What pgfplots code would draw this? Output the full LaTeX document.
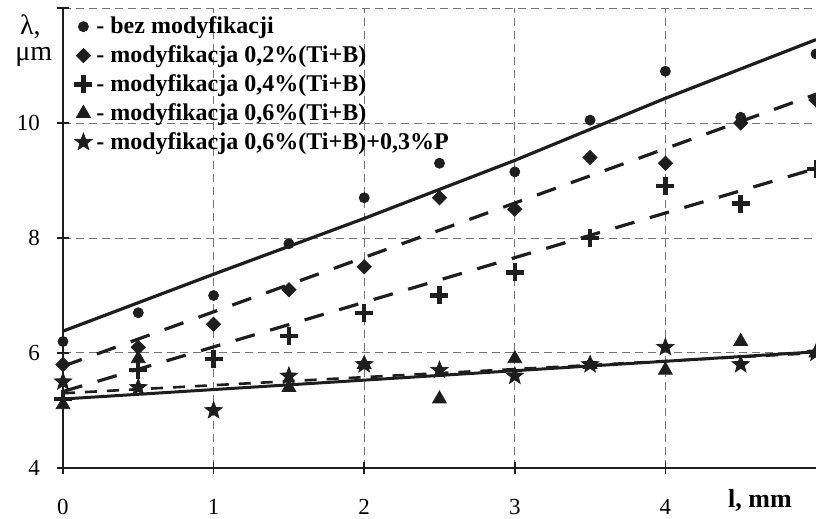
\documentclass[border=0pt]{standalone}
\usepackage{pgfplots}
\pgfplotsset{compat=1.18}
\usepackage{fontspec}
\setmainfont{Liberation Serif}

% filled five-pointed star
\pgfdeclareplotmark{fstar}{%
  \pgfpathmoveto{\pgfpointpolar{90}{\pgfplotmarksize}}%
  \pgfpathlineto{\pgfpointpolar{126}{0.42\pgfplotmarksize}}%
  \pgfpathlineto{\pgfpointpolar{162}{\pgfplotmarksize}}%
  \pgfpathlineto{\pgfpointpolar{198}{0.42\pgfplotmarksize}}%
  \pgfpathlineto{\pgfpointpolar{234}{\pgfplotmarksize}}%
  \pgfpathlineto{\pgfpointpolar{270}{0.42\pgfplotmarksize}}%
  \pgfpathlineto{\pgfpointpolar{306}{\pgfplotmarksize}}%
  \pgfpathlineto{\pgfpointpolar{342}{0.42\pgfplotmarksize}}%
  \pgfpathlineto{\pgfpointpolar{18}{\pgfplotmarksize}}%
  \pgfpathlineto{\pgfpointpolar{54}{0.42\pgfplotmarksize}}%
  \pgfpathclose\pgfusepathqfillstroke}

\definecolor{ink}{HTML}{1E1E1E}

\begin{document}
\begin{tikzpicture}
\begin{axis}[
  at={(0,0)}, anchor=south west, scale only axis,
  width=376.5pt, height=230pt,
  xmin=0, xmax=5, ymin=4, ymax=12,
  axis x line=bottom, axis y line=left,
  axis line style={-, line width=1pt, ink},
  xtick={0,1,2,3,4}, ytick={4,6,8,10,12}, yticklabels={4,6,8,10,},
  tick align=center, major tick length=6pt,
  tick style={ink, line width=0.8pt},
  grid=major,
  major grid style={black!55, line width=0.5pt, dash pattern=on 4pt off 2.5pt},
  /pgf/number format/assume math mode=true,
  ticklabel style={font=\fontsize{11.5}{12}\selectfont},
  xticklabel style={yshift=-9pt},
  yticklabel style={xshift=-5pt},
  legend style={at={(0.012,0.995)}, anchor=north west, draw=none, fill=none,
    font=\fontsize{12}{14}\selectfont\bfseries, row sep=0.5pt, inner sep=1pt},
  legend cell align=left,
  legend image code/.code={\draw[#1] plot coordinates {(0.15cm,0cm)};},
  clip=false,
]
% measured points
\addplot[only marks, mark=*, mark size=2.5pt, ink] coordinates {
  (0,6.2) (0.5,6.7) (1,7.0) (1.5,7.9) (2,8.7) (2.5,9.3) (3,9.15) (3.5,10.05) (4,10.9) (4.5,10.1) (5,11.2)};
\addlegendentry{- bez modyfikacji}
\addplot[only marks, mark=square*, mark size=2.5pt, ink, mark options={rotate=45}] coordinates {
  (0,5.8) (0.5,6.1) (1,6.5) (1.5,7.1) (2,7.5) (2.5,8.7) (3,8.5) (3.5,9.4) (4,9.3) (4.5,10.0) (5,10.4)};
\addlegendentry{- modyfikacja 0,2\%(Ti+B)}
\addplot[only marks, mark=+, mark size=4.5pt, ink, mark options={line width=2.2pt}] coordinates {
  (0,5.2) (0.5,5.7) (1,5.9) (1.5,6.3) (2,6.7) (2.5,7.0) (3,7.4) (3.5,8.0) (4,8.9) (4.5,8.6) (5,9.2)};
\addlegendentry{- modyfikacja 0,4\%(Ti+B)}
\addplot[only marks, mark=triangle*, mark size=4pt, ink] coordinates {
  (0,5.1) (0.5,5.9) (1.5,5.4) (2,5.8) (2.5,5.2) (3,5.9) (3.5,5.8) (4,5.7) (4.5,6.2) (5,6.0)};
\addlegendentry{- modyfikacja 0,6\%(Ti+B)}
\addplot[only marks, mark=fstar, mark size=4.5pt, ink] coordinates {
  (0,5.5) (0.5,5.4) (1,5.0) (1.5,5.6) (2,5.8) (2.5,5.7) (3,5.6) (3.5,5.8) (4,6.1) (4.5,5.8) (5,6.0)};
\addlegendentry{- modyfikacja 0,6\%(Ti+B)+0,3\%P}

% trend lines
\addplot[forget plot, ink, line width=1.6pt] coordinates {
  (0,6.38) (1,7.37) (2,8.34) (3,9.35) (4,10.43) (5,11.45)};
\addplot[forget plot, ink, line width=1.6pt, dash pattern=on 10pt off 8pt] coordinates {
  (0,5.77) (5,10.5)};
\addplot[forget plot, ink, line width=1.6pt, dash pattern=on 10pt off 8pt] coordinates {
  (0,5.33) (5,9.21)};
\addplot[forget plot, ink, line width=1.5pt] coordinates {
  (0,5.2) (5,6.02)};
\addplot[forget plot, ink, line width=1.3pt, dash pattern=on 6pt off 5pt] coordinates {
  (0,5.3) (5,6.0)};

\node[anchor=north west, align=left, inner sep=0pt, font=\fontsize{14}{13}\selectfont]
  at (rel axis cs:0,1) [xshift=-24pt, yshift=-3pt] {\,λ,\\μm};
\node[font=\fontsize{13}{14}\selectfont\bfseries] at (rel axis cs:1,0) [xshift=-28pt, yshift=-16pt] {l, mm};
\end{axis}
\pgfresetboundingbox
\path[use as bounding box] (-31.5pt,-25.5pt) rectangle (376.5pt,234pt);
\end{tikzpicture}
\end{document}
